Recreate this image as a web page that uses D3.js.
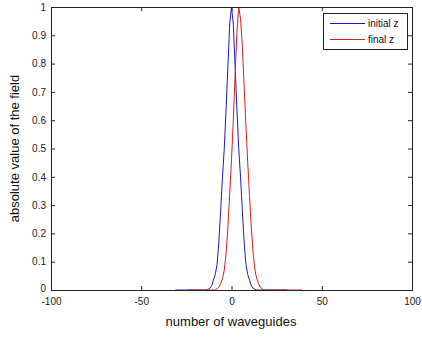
<!DOCTYPE html>
<html><head><meta charset="utf-8">
<script src="https://cdn.jsdelivr.net/npm/d3@7"></script>
<style>body{margin:0;background:#fff;} svg{display:block;}</style>
</head><body>
<svg id="c" width="422" height="338"></svg>
<script>
// data: field amplitude per waveguide index
const blueStart = -31;
const blueValues = [0,0,0,0,0,0,0,0,0,0,0,0,0,0,0,0,0,0,0.002,0.006,0.015,0.035,0.055,0.09,0.17,0.28,0.40,0.5,0.64,0.79,0.94,
  1.0,
  0.94,0.79,0.64,0.5,0.40,0.28,0.17,0.09,0.055,0.035,0.015,0.006,0.002,0,0,0,0,0,0,0,0,0,0,0,0,0,0,0,0,0,0];
const redStart = -24;
const redValues = [0,0,0,0,0,0,0,0,0,0,0,0,0,0,0,0,0.004,0.01,0.022,0.04,0.07,0.13,0.22,0.34,0.46,0.60,0.76,0.91,
  1.0,0.96,
  0.86,0.72,0.58,0.45,0.33,0.22,0.13,0.07,0.04,0.022,0.01,0.004,0,0,0,0,0,0,0,0,0,0,0,0,0,0,0,0,0,0,0,0,0,0];
const seriesNames = ["initial z","final z"];
const xTicks = [-100,-50,0,50,100];
const yTicks = [0,0.1,0.2,0.3,0.4,0.5,0.6,0.7,0.8,0.9,1];

const blue = blueValues.map((v,i)=>({n:blueStart+i,v}));
const red = redValues.map((v,i)=>({n:redStart+i,v}));

const svg = d3.select("#c");
const L=51, R=412, T=7, B=290;
const x = d3.scaleLinear().domain([-100,100]).range([L,R]);
const y = d3.scaleLinear().domain([0,1]).range([B,T]);
const font = "'Liberation Sans', Arial, sans-serif";
const axisCol = "#222";

svg.append("rect").attr("x",0).attr("y",0).attr("width",422).attr("height",338).attr("fill","#fff");

const line = d3.line().x(d=>x(d.n)).y(d=>y(d.v));
svg.append("path").datum(blue).attr("d",line).attr("fill","none").attr("stroke","#1a1ac8").attr("stroke-width",1);
svg.append("path").datum(red).attr("d",line).attr("fill","none").attr("stroke","#d42020").attr("stroke-width",1);

// axes (MATLAB style: ticks inward, box)
const fmt = d=>String(+d.toFixed(1));
const gx = svg.append("g").attr("transform",`translate(0,${B})`)
  .call(d3.axisBottom(x).tickValues(xTicks).tickSize(-4).tickPadding(9).tickFormat(fmt));
const gxt = svg.append("g").attr("transform",`translate(0,${T})`)
  .call(d3.axisTop(x).tickValues(xTicks).tickSize(-4).tickFormat(""));
const gy = svg.append("g").attr("transform",`translate(${L},0)`)
  .call(d3.axisLeft(y).tickValues(yTicks).tickSize(-4).tickPadding(5).tickFormat(fmt));
const gyr = svg.append("g").attr("transform",`translate(${R},0)`)
  .call(d3.axisRight(y).tickValues(yTicks).tickSize(-4).tickFormat(""));
[gx,gxt,gy,gyr].forEach(g=>{
  g.select(".domain").attr("stroke",axisCol).attr("stroke-width",1);
  g.selectAll(".tick line").attr("stroke",axisCol);
  g.selectAll("text").attr("font-family",font).attr("font-size",10).attr("fill","#222");
});
gx.selectAll("text").attr("dy","0.6em");
gy.selectAll(".tick").filter(d=>d===0).select("text").attr("dy","0.1em");

// axis labels
svg.append("text").attr("x",231).attr("y",326).attr("text-anchor","middle")
  .attr("font-family",font).attr("font-size",13).attr("fill","#111").text("number of waveguides");
svg.append("text").attr("transform",`translate(19,${(T+B)/2}) rotate(-90)`).attr("text-anchor","middle")
  .attr("font-family",font).attr("font-size",13).attr("fill","#111").text("absolute value of the field");

// legend
const lg = svg.append("g");
lg.append("rect").attr("x",323.5).attr("y",13.5).attr("width",84).attr("height",36)
  .attr("fill","#fff").attr("stroke",axisCol).attr("stroke-width",1);
const cols = ["#1a1ac8","#d42020"];
seriesNames.forEach((nm,i)=>{
  const yy = 23.5 + i*16;
  lg.append("line").attr("x1",330).attr("x2",365).attr("y1",yy).attr("y2",yy).attr("stroke",cols[i]).attr("stroke-width",1);
  lg.append("text").attr("x",368).attr("y",yy).attr("dy","0.35em").attr("font-family",font).attr("font-size",10).attr("fill","#111").text(nm);
});
</script>
</body></html>
